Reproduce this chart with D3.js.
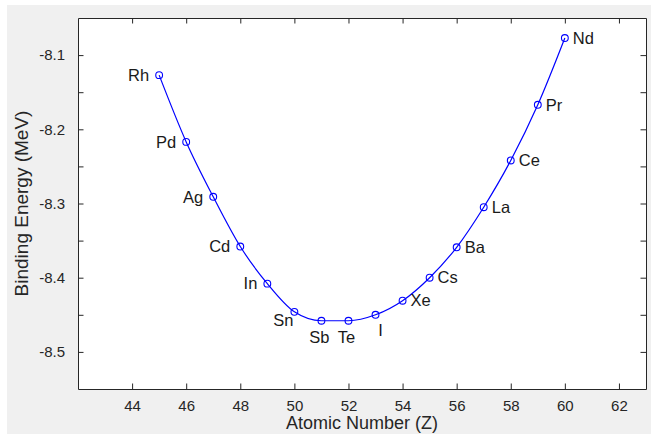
<!DOCTYPE html>
<html>
<head>
    <meta charset="utf-8">
    <title>Binding Energy</title>
    <script type="text/javascript" src="https://d3js.org/d3.v7.min.js"></script>
    <style>
        body { margin: 0; background: #ffffff; }
        text { font-family: "Liberation Sans", Arial, Helvetica, sans-serif; }
    </style>
</head>
<body>
    <svg id="chart" width="651" height="434"></svg>
    <script>
        // data
        var elements = ["Rh", "Pd", "Ag", "Cd", "In", "Sn", "Sb", "Te", "I", "Xe", "Cs", "Ba", "La", "Ce", "Pr", "Nd"];
        var atomicNumbers = [45, 46, 47, 48, 49, 50, 51, 52, 53, 54, 55, 56, 57, 58, 59, 60];
        var bindingEnergy = [-8.127, -8.217, -8.291, -8.358, -8.408, -8.446, -8.458, -8.458,
            -8.450, -8.431, -8.400, -8.359, -8.305, -8.242, -8.167, -8.077];
        var labelSide = ["L", "L", "L", "L", "L", "BL", "B", "B", "BR", "R", "R", "R", "R", "R", "R", "R"];
        var xTicks = [44, 46, 48, 50, 52, 54, 56, 58, 60, 62];
        var yTicks = [-8.5, -8.45, -8.4, -8.35, -8.3, -8.25, -8.2, -8.15, -8.1];

        var svg = d3.select("#chart");
        var margin = { top: 18, right: 5, bottom: 45, left: 78 },
            width = 651 - margin.left - margin.right,
            height = 434 - margin.top - margin.bottom;
        var axisColor = "#262626";
        var lineColor = "#0000ff";

        // figure background
        svg.append("rect")
            .attr("x", 7).attr("y", 5)
            .attr("width", 644).attr("height", 429)
            .attr("fill", "#f0f0f0");

        var g = svg.append("g")
            .attr("transform", "translate(" + margin.left + "," + margin.top + ")");

        g.append("rect")
            .attr("width", width).attr("height", height)
            .attr("fill", "#ffffff");

        var x = d3.scaleLinear().domain([42, 63]).range([0, width]);
        var y = d3.scaleLinear().domain([-8.55, -8.05]).range([height, 0]);

        var tickLen = 5.5;
        // only every other y tick gets a label, plain hyphen for the sign
        var fmtY = function (d) {
            var r = Math.round(d * 100);
            return r % 10 === 0 ? d.toFixed(1) : "";
        };

        // axes, ticks inward on all four sides
        var axB = g.append("g").attr("transform", "translate(0," + height + ")")
            .call(d3.axisBottom(x).tickValues(xTicks).tickSizeInner(-tickLen).tickSizeOuter(0).tickPadding(11));
        var axT = g.append("g")
            .call(d3.axisTop(x).tickValues(xTicks).tickSizeInner(-tickLen).tickSizeOuter(0).tickFormat(""));
        var axL = g.append("g")
            .call(d3.axisLeft(y).tickValues(yTicks).tickSizeInner(-tickLen).tickSizeOuter(0).tickPadding(13).tickFormat(fmtY));
        var axR = g.append("g").attr("transform", "translate(" + width + ",0)")
            .call(d3.axisRight(y).tickValues(yTicks).tickSizeInner(-tickLen).tickSizeOuter(0).tickFormat(""));

        [axB, axT, axL, axR].forEach(function (a) {
            a.selectAll("path").attr("stroke", axisColor);
            a.selectAll("line").attr("stroke", axisColor);
            a.selectAll("text").attr("fill", axisColor).style("font-size", "15px");
        });

        // axis labels
        g.append("text")
            .attr("x", width / 2)
            .attr("y", height + 40)
            .attr("text-anchor", "middle")
            .attr("fill", axisColor)
            .style("font-size", "18px")
            .text("Atomic Number (Z)");

        g.append("text")
            .attr("transform", "rotate(-90)")
            .attr("x", -height / 2)
            .attr("y", -margin.left + 28)
            .attr("text-anchor", "middle")
            .attr("fill", axisColor)
            .style("font-size", "19px")
            .text("Binding Energy (MeV)");

        var points = atomicNumbers.map(function (z, i) {
            return { z: z, be: bindingEnergy[i], name: elements[i], side: labelSide[i] };
        });

        // curve
        var line = d3.line()
            .x(function (d) { return x(d.z); })
            .y(function (d) { return y(d.be); })
            .curve(d3.curveMonotoneX);

        g.append("path")
            .datum(points)
            .attr("d", line)
            .attr("fill", "none")
            .attr("stroke", lineColor)
            .attr("stroke-width", 1.2);

        g.selectAll("circle.pt")
            .data(points)
            .enter().append("circle")
            .attr("class", "pt")
            .attr("cx", function (d) { return x(d.z); })
            .attr("cy", function (d) { return y(d.be); })
            .attr("r", 3.4)
            .attr("fill", "none")
            .attr("stroke", lineColor)
            .attr("stroke-width", 1.1);

        // element labels
        var place = {
            L: { dx: -10, dy: 0, anchor: "end" },
            R: { dx: 8, dy: 0, anchor: "start" },
            B: { dx: -2, dy: 16, anchor: "middle" },
            BL: { dx: -11, dy: 8, anchor: "middle" },
            BR: { dx: 5, dy: 15, anchor: "middle" }
        };

        g.selectAll("text.lbl")
            .data(points)
            .enter().append("text")
            .attr("class", "lbl")
            .attr("x", function (d) { return x(d.z) + place[d.side].dx; })
            .attr("y", function (d) { return y(d.be) + place[d.side].dy; })
            .attr("dy", "0.35em")
            .attr("text-anchor", function (d) { return place[d.side].anchor; })
            .attr("fill", "#1a1a1a")
            .style("font-size", "16.5px")
            .text(function (d) { return d.name; });
    </script>
</body>
</html>
